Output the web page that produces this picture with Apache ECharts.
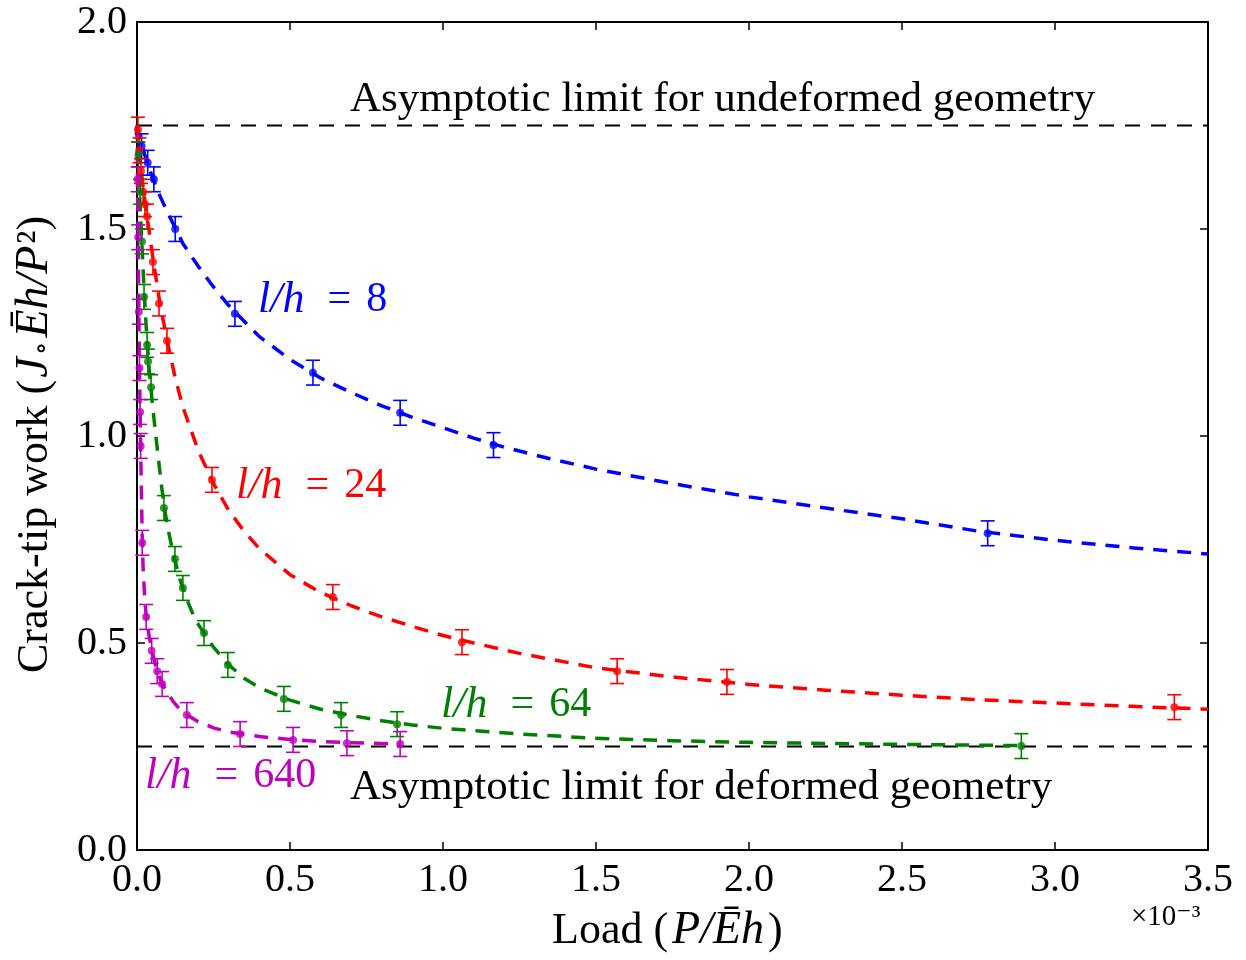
<!DOCTYPE html>
<html>
<head>
<meta charset="utf-8">
<script src="https://cdn.jsdelivr.net/npm/echarts@6/dist/echarts.min.js"></script>
<style>
  html, body { margin: 0; padding: 0; background: #fff; }
  #chart { width: 1246px; height: 960px; }
</style>
</head>
<body>
<div id="chart"></div>
<script>
// Load axis in units of 1e-3, crack-tip work dimensionless
const xTicks = [0, 0.5, 1.0, 1.5, 2.0, 2.5, 3.0, 3.5];
const yTicks = [0, 0.5, 1.0, 1.5, 2.0];

const undeformedLimit = 1.75;
const deformedLimit = 0.25;

// l/h = 8 : simulation points and fitted curve
const blueX = [0.015, 0.035, 0.055, 0.125, 0.32, 0.575, 0.86, 1.165, 2.78];
const blueY = [1.70, 1.66, 1.62, 1.50, 1.295, 1.153, 1.056, 0.978, 0.765];
const blueErr = [0.03, 0.03, 0.03, 0.03, 0.03, 0.03, 0.03, 0.03, 0.03];
const blueFitX = [0, 0.01, 0.025, 0.05, 0.075, 0.1, 0.15, 0.2, 0.25, 0.3, 0.4, 0.5, 0.6, 0.7, 0.8, 0.9, 1.0, 1.1, 1.2, 1.35, 1.5, 1.75, 2.0, 2.25, 2.5, 2.75, 3.0, 3.25, 3.5];
const blueFitY = [1.75, 1.72, 1.68, 1.625, 1.58, 1.54, 1.465, 1.41, 1.36, 1.315, 1.24, 1.185, 1.14, 1.105, 1.073, 1.045, 1.02, 0.995, 0.973, 0.945, 0.92, 0.885, 0.853, 0.826, 0.80, 0.77, 0.748, 0.73, 0.715];

// l/h = 24
const redX = [0.003, 0.008, 0.013, 0.02, 0.026, 0.033, 0.052, 0.072, 0.098, 0.245, 0.64, 1.062, 1.569, 1.928, 3.39];
const redY = [1.74, 1.69, 1.64, 1.59, 1.56, 1.53, 1.42, 1.32, 1.23, 0.894, 0.611, 0.502, 0.432, 0.406, 0.345];
const redErr = [0.03, 0.03, 0.03, 0.03, 0.03, 0.03, 0.03, 0.03, 0.03, 0.03, 0.03, 0.03, 0.03, 0.03, 0.03];
const redFitX = [0, 0.01, 0.02, 0.035, 0.05, 0.075, 0.1, 0.125, 0.15, 0.2, 0.25, 0.3, 0.35, 0.4, 0.5, 0.6, 0.7, 0.8, 0.9, 1.0, 1.1, 1.25, 1.5, 1.75, 2.0, 2.25, 2.5, 2.75, 3.0, 3.25, 3.5];
const redFitY = [1.75, 1.67, 1.60, 1.52, 1.44, 1.32, 1.225, 1.14, 1.07, 0.965, 0.885, 0.82, 0.77, 0.728, 0.665, 0.622, 0.59, 0.563, 0.54, 0.518, 0.50, 0.475, 0.44, 0.418, 0.40, 0.386, 0.374, 0.363, 0.355, 0.347, 0.34];

// l/h = 64
const greenX = [0.005, 0.01, 0.016, 0.023, 0.033, 0.036, 0.046, 0.088, 0.124, 0.15, 0.219, 0.297, 0.48, 0.667, 0.85, 2.89];
const greenY = [1.68, 1.59, 1.47, 1.336, 1.22, 1.18, 1.118, 0.826, 0.703, 0.633, 0.524, 0.447, 0.365, 0.326, 0.304, 0.251];
const greenErr = [0.03, 0.03, 0.03, 0.03, 0.03, 0.03, 0.03, 0.03, 0.03, 0.03, 0.03, 0.03, 0.03, 0.03, 0.03, 0.03];
const greenFitX = [0, 0.005, 0.01, 0.015, 0.02, 0.025, 0.03, 0.035, 0.04, 0.05, 0.06, 0.07, 0.08, 0.09, 0.1, 0.12, 0.14, 0.16, 0.18, 0.2, 0.25, 0.3, 0.35, 0.4, 0.5, 0.6, 0.7, 0.8, 0.9, 1.0, 1.25, 1.5, 1.75, 2.0, 2.5, 2.9];
const greenFitY = [1.75, 1.65, 1.56, 1.48, 1.40, 1.33, 1.265, 1.21, 1.16, 1.08, 1.01, 0.945, 0.88, 0.825, 0.78, 0.71, 0.655, 0.61, 0.575, 0.545, 0.49, 0.447, 0.415, 0.392, 0.362, 0.34, 0.325, 0.312, 0.302, 0.294, 0.28, 0.27, 0.264, 0.26, 0.255, 0.252];

// l/h = 640
const magentaX = [0.002, 0.004, 0.006, 0.008, 0.010, 0.012, 0.017, 0.03, 0.048, 0.066, 0.082, 0.163, 0.337, 0.51, 0.686, 0.86];
const magentaY = [1.62, 1.48, 1.30, 1.164, 1.058, 0.976, 0.742, 0.563, 0.481, 0.432, 0.401, 0.326, 0.28, 0.266, 0.258, 0.256];
const magentaErr = [0.03, 0.03, 0.03, 0.03, 0.03, 0.03, 0.03, 0.03, 0.03, 0.03, 0.03, 0.03, 0.03, 0.03, 0.03, 0.03];
const magentaFitX = [0, 0.002, 0.004, 0.006, 0.008, 0.01, 0.012, 0.015, 0.017, 0.02, 0.025, 0.03, 0.035, 0.04, 0.05, 0.06, 0.07, 0.08, 0.1, 0.12, 0.14, 0.16, 0.2, 0.25, 0.3, 0.4, 0.5, 0.6, 0.7, 0.86];
const magentaFitY = [1.75, 1.6, 1.46, 1.31, 1.175, 1.065, 0.97, 0.84, 0.76, 0.68, 0.61, 0.565, 0.54, 0.515, 0.478, 0.448, 0.425, 0.405, 0.378, 0.357, 0.34, 0.328, 0.31, 0.295, 0.285, 0.274, 0.267, 0.262, 0.259, 0.256];

const SERIF = '"Liberation Serif", "DejaVu Serif", serif';
const BLUE = '#0000ff', RED = '#ff0000', GREEN = '#008000', MAGENTA = '#bf00bf';

const zip = (xs, ys) => xs.map((x, i) => [x, ys[i]]);
const errData = (xs, ys, es) => xs.map((x, i) => [x, ys[i] - es[i], ys[i] + es[i]]);

function errorBars(name, xs, ys, es, color) {
  return {
    name: name + ' err',
    type: 'custom',
    data: errData(xs, ys, es),
    clip: false,
    z: 4,
    renderItem: function (params, api) {
      const lo = api.coord([api.value(0), api.value(1)]);
      const hi = api.coord([api.value(0), api.value(2)]);
      const cap = 7;
      const style = { stroke: color, lineWidth: 1.6, fill: null };
      return {
        type: 'group',
        children: [
          { type: 'line', shape: { x1: lo[0], y1: lo[1], x2: hi[0], y2: hi[1] }, style: style },
          { type: 'line', shape: { x1: lo[0] - cap, y1: lo[1], x2: lo[0] + cap, y2: lo[1] }, style: style },
          { type: 'line', shape: { x1: hi[0] - cap, y1: hi[1], x2: hi[0] + cap, y2: hi[1] }, style: style }
        ]
      };
    }
  };
}

function points(name, xs, ys, color) {
  return {
    name: name, type: 'scatter', data: zip(xs, ys), symbol: 'circle', symbolSize: 8,
    itemStyle: { color: color }, z: 5, clip: false
  };
}

function fit(name, xs, ys, color) {
  return {
    name: name + ' fit', type: 'line', data: zip(xs, ys), showSymbol: false,
    smooth: false,
    lineStyle: { color: color, width: 3.5, type: [14, 10], join: 'round' }, z: 3, silent: true
  };
}

function limit(y) {
  return {
    type: 'line', data: [[0, y], [3.5, y]], showSymbol: false,
    lineStyle: { color: '#000', width: 2, type: [15, 11] }, z: 2, silent: true
  };
}

const axisCommon = {
  type: 'value',
  axisLine: { show: true, onZero: false, lineStyle: { color: '#000', width: 2 } },
  axisTick: { show: true, inside: true, length: 8, lineStyle: { color: '#000', width: 1.5 } },
  splitLine: { show: false }
};

const labelStyle = { fontFamily: SERIF, fontSize: 40, color: '#000' };

function curveLabel(left, top, value, color) {
  return {
    type: 'text', left: left, top: top,
    style: {
      text: '{i|l/h}{e|=}{n|' + value + '}',
      rich: {
        i: { fontFamily: SERIF, fontSize: 44, fontStyle: 'italic', fill: color, padding: [0, 8, 0, 0] },
        e: { fontFamily: SERIF, fontSize: 42, fill: color, padding: [0, 15, 0, 15] },
        n: { fontFamily: SERIF, fontSize: 42, fill: color }
      }
    }
  };
}

const chart = echarts.init(document.getElementById('chart'), null, { renderer: 'canvas' });

chart.setOption({
  backgroundColor: '#fff',
  animation: false,
  grid: { left: 137, right: 38, top: 22, bottom: 110, containLabel: false },
  xAxis: [
    Object.assign({}, axisCommon, {
      position: 'bottom', min: xTicks[0], max: xTicks[xTicks.length - 1], interval: 0.5,
      axisLabel: Object.assign({ formatter: v => v.toFixed(1), margin: 10 }, labelStyle)
    }),
    Object.assign({}, axisCommon, {
      position: 'top', min: xTicks[0], max: xTicks[xTicks.length - 1], interval: 0.5,
      axisLabel: { show: false }
    })
  ],
  yAxis: [
    Object.assign({}, axisCommon, {
      position: 'left', min: yTicks[0], max: yTicks[yTicks.length - 1], interval: 0.5,
      axisLabel: Object.assign({ formatter: v => v.toFixed(1), margin: 10 }, labelStyle)
    }),
    Object.assign({}, axisCommon, {
      position: 'right', min: yTicks[0], max: yTicks[yTicks.length - 1], interval: 0.5,
      axisLabel: { show: false }
    })
  ],
  series: [
    limit(undeformedLimit),
    limit(deformedLimit),
    fit('l/h = 8', blueFitX, blueFitY, BLUE),
    fit('l/h = 24', redFitX, redFitY, RED),
    fit('l/h = 64', greenFitX, greenFitY, GREEN),
    fit('l/h = 640', magentaFitX, magentaFitY, MAGENTA),
    errorBars('l/h = 8', blueX, blueY, blueErr, BLUE),
    errorBars('l/h = 24', redX, redY, redErr, RED),
    errorBars('l/h = 64', greenX, greenY, greenErr, GREEN),
    errorBars('l/h = 640', magentaX, magentaY, magentaErr, MAGENTA),
    points('l/h = 8', blueX, blueY, BLUE),
    points('l/h = 24', redX, redY, RED),
    points('l/h = 64', greenX, greenY, GREEN),
    points('l/h = 640', magentaX, magentaY, MAGENTA)
  ],
  graphic: [
    {
      type: 'text', left: 350, top: 78,
      style: { text: 'Asymptotic limit for undeformed geometry', font: '43px ' + SERIF, fill: '#000' }
    },
    {
      type: 'text', left: 350, top: 766,
      style: { text: 'Asymptotic limit for deformed geometry', font: '43px ' + SERIF, fill: '#000' }
    },
    curveLabel(258, 278, '8', BLUE),
    curveLabel(236, 464, '24', RED),
    curveLabel(441, 683, '64', GREEN),
    curveLabel(145, 754, '640', MAGENTA),
    {
      // x-axis title
      type: 'text', left: 552, top: 908,
      style: {
        text: '{n|Load (}{i|P/Ēh}{n|)}',
        rich: { n: { fontFamily: SERIF, fontSize: 44, fill: '#000' },
                i: { fontFamily: SERIF, fontSize: 46, fontStyle: 'italic', fill: '#000', padding: [0, 4, 0, 4] } }
      }
    },
    {
      // offset exponent of the load axis
      type: 'text', left: 1131, top: 903,
      style: { text: '×10⁻³', font: '29px ' + SERIF, fill: '#000' }
    },
    {
      // y-axis title, rotated
      type: 'text', x: 12, y: 673, rotation: Math.PI / 2,
      style: {
        text: '{n|Crack-tip work (}{i|J}{s|∘}{i|Ēh/P}{n|²)}',
        rich: { n: { fontFamily: SERIF, fontSize: 44, fill: '#000' },
                i: { fontFamily: SERIF, fontSize: 46, fontStyle: 'italic', fill: '#000', padding: [0, 2, 0, 2] },
                s: { fontFamily: SERIF, fontSize: 28, fill: '#000', padding: [16, 2, 0, 0] } }
      }
    }
  ]
});
</script>
</body>
</html>
